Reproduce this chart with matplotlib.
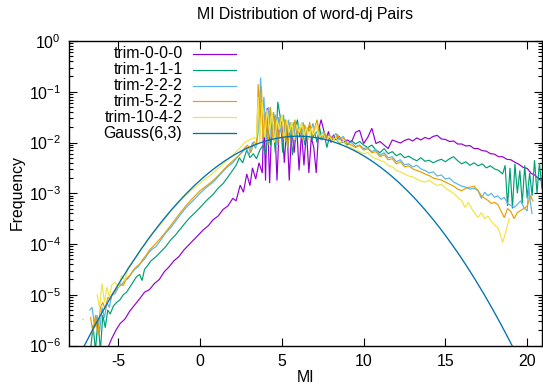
import numpy as np
import matplotlib
matplotlib.use("Agg")
import matplotlib.pyplot as plt
from matplotlib.lines import Line2D
from matplotlib.ticker import LogLocator, FixedLocator, NullLocator

# Data: (MI, log10 frequency) per series

TRIM_0_0_0 = [
    (-5.65, -6.05), (-5.4, -5.86), (-5.15, -5.70), (-4.9, -5.57), (-4.6, -5.48),
    (-4.3, -5.32), (-4.0, -5.20), (-3.7, -5.08), (-3.4, -4.95), (-3.1, -4.90),
    (-2.8, -4.78), (-2.5, -4.70), (-2.2, -4.55), (-1.9, -4.45), (-1.6, -4.33),
    (-1.3, -4.25), (-1.0, -4.12), (-0.7, -4.02), (-0.4, -3.92), (-0.1, -3.82),
    (0.2, -3.72), (0.5, -3.64), (0.8, -3.52), (1.1, -3.45), (1.4, -3.32),
    (1.7, -3.25), (2.0, -3.10), (2.2, -3.15), (2.45, -2.84), (2.65, -2.98),
    (2.85, -2.62), (3.05, -2.85), (3.2, -2.50), (3.4, -2.72), (3.6, -2.40),
    (3.8, -2.60), (3.9, -1.45), (4.0, -2.75), (4.1, -1.32),
    (4.25, -2.80), (4.4, -1.45), (4.55, -1.50), (4.7, -2.75), (4.85, -1.55),
    (5.0, -1.62), (5.15, -2.40), (5.3, -1.60), (5.45, -2.75), (5.6, -1.70),
    (5.75, -2.20), (5.9, -1.65), (6.05, -2.55), (6.2, -1.80), (6.35, -2.45),
    (6.5, -1.75), (6.65, -2.60), (6.8, -1.90), (6.95, -2.10), (7.1, -2.60),
    (7.25, -1.75), (7.4, -1.55), (7.55, -1.75), (7.7, -1.95), (7.85, -1.78),
    (8.0, -2.00), (8.15, -1.85), (8.3, -1.95), (8.5, -1.88), (8.75, -2.00),
    (9.0, -1.95), (9.25, -2.00), (9.5, -1.80), (9.75, -1.76), (10.0, -2.02),
    (10.25, -1.90), (10.5, -1.72), (10.75, -2.02), (11.0, -1.98), (11.25, -2.05),
    (11.5, -2.12), (11.75, -1.95), (12.0, -1.98), (12.25, -2.01), (12.5, -1.96),
    (12.75, -1.93), (13.0, -1.97), (13.25, -1.91), (13.5, -1.95), (13.75, -1.90),
    (14.0, -1.93), (14.25, -1.88), (14.5, -1.86), (14.75, -1.93), (15.0, -1.94),
    (15.25, -1.98), (15.5, -1.97), (15.75, -2.03), (16.0, -2.03), (16.25, -2.07),
    (16.5, -2.06), (16.75, -2.12), (17.0, -2.12), (17.25, -2.16), (17.5, -2.17),
    (17.75, -2.22), (18.0, -2.23), (18.25, -2.28), (18.5, -2.28), (18.75, -2.33),
    (19.0, -2.34), (19.25, -2.39), (19.5, -2.43), (19.75, -2.49), (20.0, -2.51),
    (20.25, -2.61), (20.5, -2.65), (20.75, -2.73), (20.9, -2.75),
]

TRIM_1_1_1 = [
    (-6.7, -6.10), (-6.55, -5.60), (-6.4, -6.10), (-6.25, -5.50), (-6.1, -6.10),
    (-5.95, -5.40), (-5.8, -5.65), (-5.65, -5.30), (-5.5, -5.38), (-5.3, -5.22),
    (-5.1, -5.15), (-4.9, -5.10), (-4.7, -5.00), (-4.5, -4.95), (-4.3, -4.85),
    (-4.1, -4.75), (-3.9, -4.65), (-3.7, -4.60), (-3.55, -4.72), (-3.4, -4.50),
    (-3.2, -4.42), (-3.0, -4.33), (-2.7, -4.25), (-2.4, -4.15), (-2.1, -4.05),
    (-1.8, -3.92), (-1.5, -3.82), (-1.2, -3.70), (-0.9, -3.58), (-0.6, -3.47),
    (-0.3, -3.38), (0.0, -3.28), (0.4, -3.14), (0.8, -3.02), (1.1, -2.90),
    (1.4, -2.81), (1.7, -2.68), (2.0, -2.54), (2.2, -2.45), (2.4, -2.30),
    (2.6, -2.40), (2.85, -2.15), (3.05, -2.30), (3.25, -2.22),
    (3.45, -2.32), (3.65, -2.15), (3.85, -2.05), (4.0, -2.25), (4.15, -1.75),
    (4.3, -2.05), (4.45, -1.65), (4.6, -2.20), (4.75, -1.20), (4.9, -1.50),
    (5.05, -2.20), (5.2, -1.55), (5.35, -2.10), (5.5, -1.70), (5.65, -2.25),
    (5.8, -1.75), (5.95, -1.55), (6.1, -1.90), (6.25, -1.70), (6.4, -2.05),
    (6.55, -1.80), (6.7, -1.65), (6.85, -1.95), (7.0, -1.80), (7.15, -2.00),
    (7.3, -1.70), (7.45, -1.95), (7.6, -1.85), (7.75, -2.10), (7.9, -1.90),
    (8.1, -1.98), (8.3, -1.90), (8.5, -2.02), (8.75, -1.98), (9.0, -2.05),
    (9.25, -1.96), (9.5, -2.03), (9.75, -1.98), (10.0, -2.05), (10.25, -2.10),
    (10.5, -2.05), (10.75, -2.15), (11.0, -2.20), (11.25, -2.12), (11.5, -2.22),
    (11.75, -2.18), (12.0, -2.26), (12.25, -2.22), (12.5, -2.30), (12.75, -2.27),
    (13.0, -2.32), (13.25, -2.36), (13.5, -2.30), (13.75, -2.37), (14.0, -2.35),
    (14.25, -2.40), (14.5, -2.36), (14.75, -2.33), (15.0, -2.38), (15.25, -2.32),
    (15.5, -2.28), (15.75, -2.36), (16.0, -2.42), (16.25, -2.38), (16.5, -2.45),
    (16.75, -2.40), (17.0, -2.46), (17.25, -2.42), (17.5, -2.50), (17.75, -2.46),
    (18.0, -2.52), (18.25, -2.55), (18.5, -2.62), (18.65, -2.45), (18.8, -3.25),
    (18.95, -2.50), (19.1, -3.30), (19.25, -2.42), (19.4, -3.00), (19.55, -2.55),
    (19.7, -3.20), (19.85, -2.45), (20.0, -3.10), (20.15, -2.60), (20.3, -3.05),
    (20.45, -2.35), (20.6, -3.00), (20.75, -2.40), (20.9, -2.90),
]

TRIM_2_2_2 = [
    (-6.75, -5.30), (-6.6, -5.25), (-6.45, -5.65), (-6.3, -5.40), (-6.15, -5.75),
    (-6.0, -5.25), (-5.85, -5.45), (-5.7, -5.15), (-5.55, -5.25), (-5.4, -5.00),
    (-5.2, -4.98), (-5.0, -4.85), (-4.8, -4.80), (-4.6, -4.72), (-4.4, -4.68),
    (-4.2, -4.58), (-4.0, -4.50), (-3.8, -4.45), (-3.6, -4.36), (-3.4, -4.30),
    (-3.2, -4.20), (-3.0, -4.12), (-2.7, -4.05), (-2.4, -3.92), (-2.1, -3.78),
    (-1.8, -3.68), (-1.5, -3.55), (-1.2, -3.42), (-0.9, -3.30), (-0.6, -3.20),
    (-0.3, -3.10), (0.0, -3.00), (0.4, -2.88), (0.8, -2.78), (1.2, -2.64),
    (1.6, -2.50), (2.0, -2.40), (2.3, -2.28), (2.6, -2.18), (2.8, -2.08),
    (3.0, -2.25), (3.2, -2.00), (3.4, -2.12),
    (3.55, -1.80), (3.7, -0.72), (3.8, -1.60), (3.9, -1.10), (4.05, -2.00),
    (4.2, -1.30), (4.35, -1.90), (4.5, -1.40), (4.65, -2.05), (4.8, -1.50),
    (4.95, -1.80), (5.1, -1.45), (5.25, -2.00), (5.4, -1.55), (5.55, -1.85),
    (5.7, -1.60), (5.85, -1.95), (6.0, -1.65), (6.15, -1.85), (6.3, -1.60),
    (6.45, -1.90), (6.6, -1.70), (6.75, -1.80), (6.9, -1.62), (7.05, -1.85),
    (7.2, -1.75), (7.35, -1.95), (7.5, -1.80), (7.7, -1.90), (7.9, -1.85),
    (8.1, -1.92), (8.3, -1.82), (8.5, -1.95), (8.75, -1.88), (9.0, -2.02),
    (9.25, -2.00), (9.5, -2.08), (9.75, -2.05), (10.0, -2.12), (10.25, -2.10),
    (10.5, -2.18), (10.75, -2.14), (11.0, -2.25), (11.25, -2.20), (11.5, -2.30),
    (11.75, -2.28), (12.0, -2.38), (12.25, -2.34), (12.5, -2.44), (12.75, -2.42),
    (13.0, -2.48), (13.25, -2.45), (13.5, -2.52), (13.75, -2.55), (14.0, -2.60),
    (14.25, -2.58), (14.5, -2.66), (14.75, -2.64), (15.0, -2.72), (15.25, -2.70),
    (15.5, -2.78), (15.75, -2.82), (16.0, -2.86), (16.25, -2.88), (16.5, -2.92),
    (16.75, -2.90), (17.0, -2.95), (17.2, -3.10), (17.4, -2.98), (17.6, -3.05),
    (17.8, -3.00), (18.0, -3.08), (18.2, -3.05), (18.4, -3.12), (18.6, -3.08),
    (18.8, -3.20), (19.0, -3.24), (19.2, -3.28), (19.4, -3.22), (19.6, -3.15),
    (19.8, -3.28), (20.0, -3.35), (20.1, -2.85), (20.2, -3.20), (20.3, -3.40),
]

TRIM_5_2_2 = [
    (-6.7, -5.45), (-6.55, -5.75), (-6.4, -5.40), (-6.25, -5.80), (-6.1, -5.25),
    (-5.95, -5.15), (-5.8, -5.30), (-5.65, -5.05), (-5.5, -5.10), (-5.3, -4.95),
    (-5.1, -4.90), (-4.9, -4.78), (-4.7, -4.82), (-4.5, -4.68), (-4.3, -4.62),
    (-4.1, -4.52), (-3.9, -4.45), (-3.7, -4.40), (-3.5, -4.30), (-3.3, -4.22),
    (-3.1, -4.12), (-2.8, -4.02), (-2.4, -3.88), (-2.0, -3.72), (-1.6, -3.55),
    (-1.2, -3.38), (-0.8, -3.22), (-0.4, -3.08), (0.0, -2.95), (0.4, -2.85),
    (0.8, -2.75), (1.2, -2.62), (1.6, -2.48), (2.0, -2.36), (2.4, -2.25),
    (2.7, -2.12), (2.9, -2.05), (3.1, -2.20), (3.3, -1.98), (3.45, -2.05),
    (3.55, -0.85), (3.65, -1.75), (3.75, -0.90), (3.85, -1.95), (4.0, -1.40),
    (4.15, -2.05), (4.3, -1.30), (4.45, -1.95), (4.6, -1.45), (4.75, -2.05),
    (4.9, -1.50), (5.05, -1.90), (5.2, -1.55), (5.35, -2.10), (5.5, -1.60),
    (5.65, -1.90), (5.8, -1.55), (5.95, -1.85), (6.1, -1.70), (6.25, -1.95),
    (6.4, -1.65), (6.55, -1.85), (6.7, -1.60), (6.85, -1.90), (7.0, -1.72),
    (7.15, -1.55), (7.3, -1.85), (7.45, -1.95), (7.6, -1.80), (7.8, -1.92),
    (8.0, -1.88), (8.2, -1.95), (8.4, -1.84), (8.6, -1.95), (8.8, -1.92),
    (9.0, -2.02), (9.25, -2.05), (9.5, -2.10), (9.75, -2.06), (10.0, -2.15),
    (10.25, -2.12), (10.5, -2.20), (10.75, -2.18), (11.0, -2.28), (11.25, -2.24),
    (11.5, -2.34), (11.75, -2.32), (12.0, -2.42), (12.25, -2.38), (12.5, -2.48),
    (12.75, -2.46), (13.0, -2.52), (13.25, -2.55), (13.5, -2.58), (13.75, -2.62),
    (14.0, -2.65), (14.25, -2.70), (14.5, -2.72), (14.75, -2.74), (15.0, -2.78),
    (15.25, -2.82), (15.5, -2.86), (15.75, -2.92), (16.0, -2.95), (16.25, -2.90),
    (16.5, -2.88), (16.75, -2.86), (17.0, -2.95), (17.2, -3.05), (17.4, -3.10),
    (17.6, -3.14), (17.8, -3.20), (18.0, -3.18), (18.2, -3.22), (18.4, -3.35),
    (18.6, -3.48), (18.8, -3.30), (19.0, -3.36), (19.2, -3.50), (19.4, -3.38),
    (19.6, -3.34), (19.8, -3.30), (20.0, -3.25), (20.2, -3.05), (20.35, -3.15),
]

# isolated short piece at the far left, then the main curve
TRIM_10_4_2_STUB = [(-7.25, -5.48), (-7.15, -5.48)]
TRIM_10_4_2 = [
    (-6.3, -5.00), (-6.15, -5.25), (-6.0, -4.78), (-5.85, -5.15), (-5.7, -4.85),
    (-5.55, -5.05), (-5.4, -4.80), (-5.2, -4.75), (-5.0, -4.85), (-4.8, -4.62),
    (-4.6, -4.72), (-4.4, -4.45), (-4.2, -4.40), (-4.0, -4.30), (-3.8, -4.22),
    (-3.6, -4.08), (-3.4, -4.02), (-3.2, -3.90), (-3.0, -3.82), (-2.7, -3.72),
    (-2.4, -3.60), (-2.1, -3.48), (-1.8, -3.35), (-1.5, -3.25), (-1.2, -3.15),
    (-0.9, -3.05), (-0.6, -2.96), (-0.3, -2.88), (0.0, -2.80), (0.4, -2.70),
    (0.8, -2.60), (1.2, -2.48), (1.6, -2.36), (2.0, -2.25), (2.4, -2.12),
    (2.8, -1.98), (3.2, -1.92),
    (3.45, -1.90), (3.55, -1.10), (3.65, -2.00), (3.8, -1.20), (3.95, -1.90),
    (4.1, -1.35), (4.25, -1.80), (4.4, -1.40), (4.55, -2.00), (4.7, -1.55),
    (4.85, -1.75), (5.0, -1.45), (5.15, -1.95), (5.3, -1.55), (5.45, -1.80),
    (5.6, -1.60), (5.75, -1.95), (5.9, -1.65), (6.05, -1.80), (6.2, -1.60),
    (6.35, -1.85), (6.5, -1.70), (6.65, -1.95), (6.8, -1.72), (6.95, -1.85),
    (7.1, -1.65), (7.3, -1.90), (7.5, -1.82), (7.7, -1.95), (7.9, -1.88),
    (8.1, -1.98), (8.3, -1.90), (8.5, -2.00), (8.75, -1.98), (9.0, -2.08),
    (9.25, -2.10), (9.5, -2.15), (9.75, -2.18), (10.0, -2.22), (10.25, -2.20),
    (10.5, -2.28), (10.75, -2.32), (11.0, -2.35), (11.25, -2.38), (11.5, -2.45),
    (11.75, -2.48), (12.0, -2.55), (12.25, -2.58), (12.5, -2.62), (12.75, -2.66),
    (13.0, -2.68), (13.25, -2.72), (13.5, -2.76), (13.75, -2.78), (14.0, -2.74),
    (14.25, -2.80), (14.5, -2.85), (14.75, -2.82), (15.0, -2.90), (15.25, -2.95),
    (15.5, -3.00), (15.75, -3.08), (16.0, -3.15), (16.2, -3.28), (16.4, -3.18),
    (16.6, -3.30), (16.8, -3.40), (17.0, -3.48), (17.2, -3.38), (17.4, -3.50),
    (17.6, -3.45), (17.8, -3.55), (18.0, -3.62), (18.2, -3.68), (18.35, -3.80),
    (18.5, -3.97), (18.7, -3.75), (18.9, -3.50),
]

# Reference Gaussian drawn as a function: Gauss(mean, sigma) scaled to bin width
GAUSS_MEAN = 6.0
GAUSS_SIGMA = 3.0
BIN_WIDTH = 0.1

LABELS = ['trim-0-0-0', 'trim-1-1-1', 'trim-2-2-2', 'trim-5-2-2',
          'trim-10-4-2', 'Gauss(6,3)']
COLORS = ['#9400d3', '#009e73', '#56b4e9', '#e69f00', '#f0e442', '#0072b2']

XLIM = (-8, 20.9)
YLIM = (1e-6, 1)
XTICKS = [-5, 0, 5, 10, 15, 20]
YTICKS = [1e-6, 1e-5, 1e-4, 1e-3, 1e-2, 1e-1, 1]

# Style

W, H = 543, 385
FONT = 'Liberation Sans'
FS = 11.4
LW = 0.85

plt.rcParams['font.family'] = [FONT, 'DejaVu Sans']
plt.rcParams['mathtext.fontset'] = 'custom'
plt.rcParams['mathtext.rm'] = FONT
plt.rcParams['mathtext.it'] = FONT
plt.rcParams['axes.unicode_minus'] = False


def px(x, y):
    """pixel (from top-left) -> figure fraction"""
    return x / W, 1 - y / H


def split(pairs):
    xs = np.array([p[0] for p in pairs])
    ys = 10.0 ** np.array([p[1] for p in pairs])
    return xs, ys


def main():
    fig = plt.figure(figsize=(W / 100, H / 100), dpi=100)
    fig.patch.set_facecolor('white')

    left, top, right, bottom = 69.3, 41.0, 541.9, 345.5
    ax = fig.add_axes([left / W, 1 - bottom / H, (right - left) / W, (bottom - top) / H])

    series = [TRIM_0_0_0, TRIM_1_1_1, TRIM_2_2_2, TRIM_5_2_2, TRIM_10_4_2]
    for pairs, col in zip(series, COLORS[:5]):
        xs, ys = split(pairs)
        ax.plot(xs, ys, color=col, lw=LW, solid_joinstyle='miter')
    xs, ys = split(TRIM_10_4_2_STUB)
    ax.plot(xs, ys, color=COLORS[4], lw=LW)

    gx = np.linspace(XLIM[0], XLIM[1], 600)
    gy = BIN_WIDTH / (GAUSS_SIGMA * np.sqrt(2 * np.pi)) * \
        np.exp(-0.5 * ((gx - GAUSS_MEAN) / GAUSS_SIGMA) ** 2)
    ax.plot(gx, gy, color=COLORS[5], lw=LW + 0.1)

    ax.set_yscale('log')
    ax.set_xlim(*XLIM)
    ax.set_ylim(*YLIM)
    ax.xaxis.set_major_locator(FixedLocator(XTICKS))
    ax.xaxis.set_minor_locator(NullLocator())
    ax.yaxis.set_major_locator(FixedLocator(YTICKS))
    ax.yaxis.set_minor_locator(LogLocator(base=10, subs=np.arange(2, 10), numticks=20))

    ax.tick_params(which='both', direction='in', top=True, right=True,
                   labelsize=FS, color='black', width=0.8)
    ax.tick_params(which='major', length=6, pad=6)
    ax.tick_params(which='minor', length=3)
    for s in ax.spines.values():
        s.set_linewidth(1.0)

    # titles and axis labels
    fig.text(*px(305, 15), 'MI Distribution of word-dj Pairs', fontsize=FS,
             ha='center', va='center')
    fig.text(*px(305, 378), 'MI', fontsize=FS, ha='center', va='center')
    fig.text(*px(17, 193), 'Frequency', fontsize=FS, ha='center', va='center',
             rotation=90)

    # gnuplot-style key: right-aligned label, then line sample
    for i, (lab, col) in enumerate(zip(LABELS, COLORS)):
        yy = 53.7 + i * 15.9
        fig.text(*px(182.5, yy), lab, fontsize=FS, ha='right', va='center')
        x0, y0 = px(193, yy)
        x1, _ = px(235.5, yy)
        fig.add_artist(Line2D([x0, x1], [y0, y0], color=col,
                              lw=LW + (0.1 if i == 5 else 0)))

    fig.savefig('out.png', dpi=100)


if __name__ == '__main__':
    main()
